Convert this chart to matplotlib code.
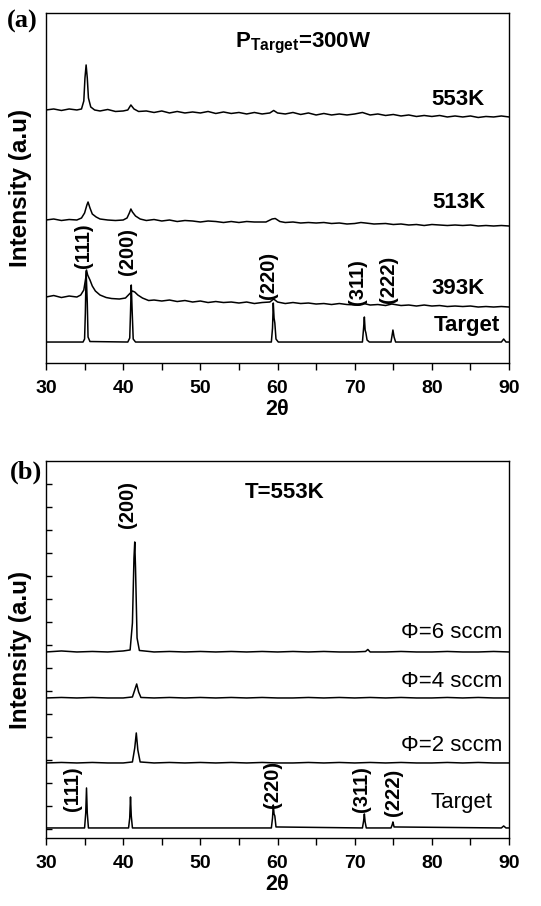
import matplotlib
matplotlib.use("Agg")
import matplotlib.pyplot as plt
import numpy as np

plt.rcParams['font.family'] = ['Liberation Sans', 'DejaVu Sans']
plt.rcParams['mathtext.fontset'] = 'custom'
plt.rcParams['mathtext.rm'] = 'Liberation Sans'
plt.rcParams['mathtext.bf'] = 'Liberation Sans:bold'

# ---- panel (a): P_Target = 300 W, intensity in arbitrary units (offset traces)
x_553 = [30, 31, 32, 33, 34, 34.6, 34.9, 35.05, 35.2, 35.35, 35.5, 35.8, 36.3, 37, 38, 39, 40,
         40.6, 41.0, 41.4, 42, 43, 44, 45, 46, 47, 48, 49, 50, 51, 52, 53, 54, 55, 56, 57, 58,
         59, 59.5, 60, 61, 62, 63, 64, 65, 66, 67, 68, 69, 70, 71, 71.6, 72, 73, 74, 75, 76, 77,
         78, 79, 80, 81, 82, 83, 84, 85, 86, 87, 88, 89, 90]
y_553 = [253, 254, 252.5, 254, 253, 254, 262, 285, 298, 285, 265, 256, 253, 252, 253.5, 251.5, 252,
         253, 258, 254, 251.5, 252, 250.5, 252, 250, 251.5, 250, 251, 250, 251.5, 249.5, 251, 249.5, 250.5, 249, 250.5, 249,
         250, 252.5, 250, 249, 250.5, 248.5, 250, 248, 249.5, 248, 249, 248, 249, 250.5, 249, 248, 249, 247.5, 248.5, 247, 248,
         246.5, 247.5, 246.5, 247.5, 246, 247, 246, 247, 245.5, 246.5, 246, 247, 246]

x_513 = [30, 31, 32, 33, 34, 34.6, 35.0, 35.3, 35.45, 35.7, 36.0, 36.5, 37, 38, 39, 40, 40.5, 40.8,
         41.0, 41.2, 41.6, 42.2, 43, 44, 45, 46, 47, 48, 49, 50, 51, 52, 53, 54, 55, 56, 57, 58.5,
         59.3, 59.7, 60.3, 61, 62, 63, 64, 65, 66, 67, 68, 69, 70, 70.8, 71.4, 72.5, 74, 75, 76, 77,
         78, 79, 80, 81, 82, 83, 84, 85, 86, 87, 88, 89, 90]
y_513 = [143, 144, 142.5, 143.5, 143, 145, 150, 158, 161, 155, 149, 146, 144, 143, 142.5, 143, 145, 150,
         154, 151, 147, 144, 142.5, 143.5, 142, 143, 141.5, 142.5, 142, 141, 142, 141.5, 140.5, 141.5, 140.5, 141.5, 141, 141,
         144, 144.5, 141.5, 140.5, 141, 140, 140.5, 140, 140.5, 139.5, 140, 139, 139.5, 140.5, 140, 139, 139.5, 138.5, 139, 138,
         138.5, 137.5, 138.5, 138, 137.5, 138, 137.5, 138, 137, 137.5, 137, 137.5, 137]

x_393 = [30, 31, 32, 33, 34, 34.5, 34.9, 35.15, 35.25, 35.4, 35.7, 36.0, 36.4, 37, 37.8, 38.5, 39.5,
         40.3, 40.8, 41.2, 41.5, 41.9, 42.5, 43.3, 44, 45, 46, 47, 48, 49, 50, 51, 52, 53, 54, 55,
         56, 57, 58, 59, 59.5, 60, 61, 62, 63, 64, 65, 66, 67, 68, 69, 70.5, 71.2, 72, 73, 74, 74.8,
         76, 77, 78, 79, 80, 81, 82, 83, 84, 85, 86, 87, 88, 89, 90]
y_393 = [66, 67.5, 65.5, 67, 66, 68, 73, 85, 93, 88, 83, 77, 72, 68, 65.5, 64.5, 64,
         65, 69, 72, 71, 68, 65, 62.5, 63, 62, 63, 61.5, 62.5, 61, 62, 60.5, 61.5, 60.5, 61, 60,
         61, 59.5, 60.5, 61, 64, 61, 59.5, 60.5, 59.5, 60, 59, 59.5, 58.5, 59.5, 58.5, 58, 59.5, 58, 58.5, 57.5, 59,
         57.5, 58, 57, 58, 57, 57.5, 56.5, 57, 56.5, 57, 56, 56.5, 56, 56.5, 56]

x_tgt_a = [30, 34.8, 35.0, 35.1, 35.2, 35.35, 35.45, 35.7, 40.6, 40.85, 40.95, 41.05, 41.15, 41.3, 41.6,
           59.2, 59.35, 59.45, 59.55, 59.65, 59.8, 60.1, 71.0, 71.15, 71.25, 71.35, 71.45, 71.6, 71.9,
           74.7, 74.85, 74.95, 75.1, 75.3, 89.0, 89.3, 89.6, 90]
y_tgt_a = [21, 21, 24, 50, 92, 60, 26, 21.5, 21, 25, 50, 78, 55, 24, 21,
           21, 35, 60, 45, 40, 24, 21, 21, 35, 46, 33, 30, 23, 21,
           21, 28, 33, 26, 21, 21, 24, 21, 21]

names_a = ['553K', '513K', '393K', 'Target']
name_pos_a = [(86.8, 263), (87.0, 160), (86.9, 75), (88.8, 38)]
hkl = ['(111)', '(200)', '(220)', '(311)', '(222)']
hkl_pos_a = [(34.8, 117), (40.6, 112), (58.8, 88), (70.4, 81), (74.4, 84)]

# ---- panel (b): T = 553 K, different O2 flows
x_phi6 = [30, 32, 34, 36, 38, 40, 40.9, 41.2, 41.4, 41.5, 41.6, 41.8, 42.1, 44, 46, 48, 50, 52, 54, 56,
          58, 60, 62, 64, 66, 68, 70, 71.4, 71.7, 72.0, 74, 76, 78, 80, 82, 84, 86, 88, 90]
y_phi6 = [186, 187, 186, 186.5, 186, 187, 188, 215, 280, 296, 270, 200, 187.5, 186, 186.5, 186, 186.5, 186, 186.5, 186,
          186.5, 186, 186.5, 186, 186.5, 186, 186, 186.5, 188.5, 186, 186, 186.5, 186, 186, 186.5, 186, 186, 186.5, 186]

x_phi4 = [30, 32, 34, 36, 38, 40, 41.2, 41.5, 41.75, 42.0, 42.3, 44, 46, 48, 50, 52, 54, 56, 58, 60,
          62, 64, 66, 68, 70, 72, 74, 76, 78, 80, 82, 84, 86, 88, 90]
y_phi4 = [140, 140.5, 140, 140.5, 140, 140, 141, 148, 154, 146, 140.5, 140, 140.5, 140, 140.5, 140, 140.5, 140, 140.5, 140,
          140, 140.5, 140, 140.5, 140, 140.5, 140, 140.5, 140, 140, 140.5, 140, 140.5, 140, 140]

x_phi2 = [30, 32, 34, 36, 38, 40, 41.2, 41.5, 41.7, 41.9, 42.2, 44, 46, 48, 50, 52, 54, 56, 58, 60,
          62, 64, 66, 68, 70, 72, 74, 76, 78, 80, 82, 84, 86, 88, 90]
y_phi2 = [75, 75.5, 75, 75.5, 75, 75, 76, 90, 105, 88, 76, 75, 75.5, 75, 75.5, 75, 75.5, 75, 75.5, 75,
          75, 75.5, 75, 75.5, 75, 75.5, 75, 75.5, 75, 75, 75.5, 75, 75.5, 75, 75]

x_tgt_b = [30, 35.0, 35.15, 35.25, 35.35, 35.5, 40.7, 40.85, 40.95, 41.05, 41.2, 59.2, 59.35, 59.45, 59.55,
           59.65, 59.8, 71.0, 71.15, 71.25, 71.35, 71.5, 74.7, 74.85, 74.95, 75.1, 89.0, 89.3, 89.6, 90]
y_tgt_b = [10, 10, 25, 50, 25, 10, 10, 20, 41, 22, 10, 10, 20, 33, 24,
           22, 11, 10, 17, 24, 16, 10, 10, 13, 16, 11, 10, 12, 10, 10]

names_b = ['\u03a6=6 sccm', '\u03a6=4 sccm', '\u03a6=2 sccm', 'Target']
name_pos_b = [(89.1, 205), (89.1, 156), (89.1, 92), (87.9, 35)]
hkl_pos_b = [(33.4, 49), (40.6, 333), (59.4, 54), (70.9, 49), (75.0, 46)]

fig = plt.figure(figsize=(5.41, 9.06), dpi=100)
ax1 = fig.add_axes([0.085, 0.5993, 0.856, 0.3864])
ax2 = fig.add_axes([0.085, 0.0751, 0.856, 0.4161])

lw = 1.1
for xs, ys in [(x_553, y_553), (x_513, y_513), (x_393, y_393), (x_tgt_a, y_tgt_a)]:
    ax1.plot(xs, ys, color='black', lw=lw)
for xs, ys in [(x_phi6, y_phi6), (x_phi4, y_phi4), (x_phi2, y_phi2), (x_tgt_b, y_tgt_b)]:
    ax2.plot(xs, ys, color='black', lw=lw)

for ax in (ax1, ax2):
    ax.set_xlim(30, 90)
    ax.set_xticks(np.arange(30, 91, 10))
    ax.set_xticks(np.arange(35, 90, 10), minor=True)
    ax.tick_params(axis='x', which='both', direction='out', length=5, width=1, pad=7,
                   top=False, labelsize=14)
    for lab in ax.get_xticklabels():
        lab.set_fontweight('bold')
    ax.set_xlabel('2\u03b8', fontsize=15.5, fontweight='bold', labelpad=2)
    ax.set_ylabel('Intensity (a.u)', fontsize=17.5, fontweight='bold')
    ax.yaxis.set_label_coords(-0.030, 0.5)
    for sp in ax.spines.values():
        sp.set_linewidth(1.0)

ax1.set_ylim(0, 350)
ax1.set_yticks([])

ax2.set_ylim(0, 377)
ax2.set_yticks(np.arange(9, 370, 23))
ax2.tick_params(axis='y', direction='in', length=4, width=1, labelleft=False, right=False)

for name, (x, y) in zip(names_a, name_pos_a):
    ax1.text(x, y, name, ha='right', va='center', fontsize=16, fontweight='bold')
for lab, (x, y) in zip(hkl, hkl_pos_a):
    ax1.text(x, y, lab, ha='center', va='center', rotation=90, fontsize=14.5, fontweight='bold')
ax1.text(54.5, 320, r'P$_\mathbf{Target}$=300W', ha='left', va='center', fontsize=16, fontweight='bold')

for name, (x, y) in zip(names_b, name_pos_b):
    ax2.text(x, y, name, ha='right', va='center', fontsize=16)
for lab, (x, y) in zip(hkl, hkl_pos_b):
    ax2.text(x, y, lab, ha='center', va='center', rotation=90, fontsize=14.5, fontweight='bold')
ax2.text(55.8, 345, 'T=553K', ha='left', va='center', fontsize=16, fontweight='bold')

fig.text(0.012, 0.976, '(a)', family='Liberation Serif', fontsize=19, fontweight='bold', va='center')
fig.text(0.018, 0.479, '(b)', family='Liberation Serif', fontsize=19, fontweight='bold', va='center')

fig.savefig('out.png', dpi=100)
